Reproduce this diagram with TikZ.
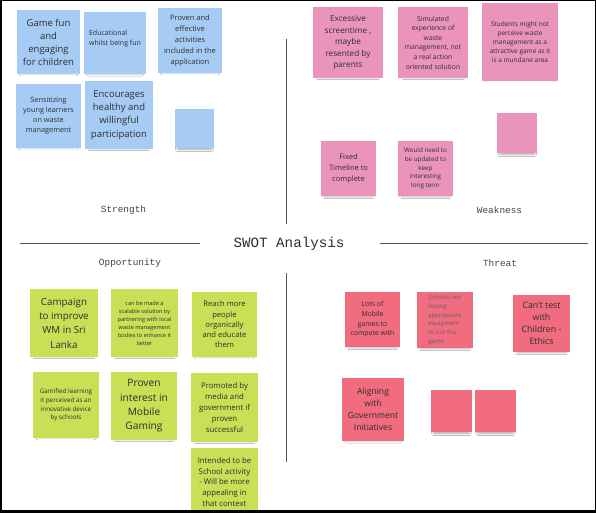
\documentclass[tikz,border=0pt]{standalone}
\usepackage{fontspec}
\setmainfont{Open Sans}
\setmonofont{Liberation Mono}
\usetikzlibrary{shadows.blur}
\definecolor{sblue}{HTML}{A6CCF5}
\definecolor{spink}{HTML}{EA94BB}
\definecolor{sgreen}{HTML}{C9DF56}
\definecolor{sred}{HTML}{F16C7F}
\definecolor{notetext}{HTML}{2E2E2E}
\definecolor{labtext}{HTML}{444444}
\definecolor{rulecol}{HTML}{555555}
\newcommand\stfs[2]{\fontsize{#1bp}{#2bp}\selectfont}
\begin{document}
\begin{tikzpicture}[x=1bp,y=-1bp,
  sticky/.style 2 args={rectangle, minimum width=#1bp, minimum height=#2bp,
    inner sep=0pt, outer sep=0pt, align=center, text=notetext,
    blur shadow={shadow xshift=0bp, shadow yshift=-5bp,
      shadow blur radius=2.5bp, shadow opacity=35, shadow scale=0.86}},
  lab/.style={font=\ttfamily\stfs{9.4}{11}, text=labtext, inner sep=1pt},
  titlestyle/.style={font=\ttfamily\stfs{14.2}{16}, text=notetext, inner sep=1pt},
  rulestyle/.style={draw=rulecol, line width=1bp},
  vrule/.style={draw=rulecol, line width=1.3bp}]
\useasboundingbox (0,0) rectangle (596,513);
\fill[white] (0,0) rectangle (596,513);
\begin{scope}
\clip (0,0) rectangle (596,510);
% Strength
\node[sticky={63}{64}, fill=sblue, font=\stfs{9.5}{13}] (s1) at (48.5,42) {Game fun\\and\\engaging\\for children};
\node[sticky={62}{62}, fill=sblue, font=\stfs{7}{10.5}, align=left] (s2) at (115,43) {Educational\\whilst being fun\\\mbox{}};
\node[sticky={64}{65}, fill=sblue, font=\stfs{7.5}{11}] (s3) at (190,40.5) {Proven and\\effective\\activities\\included in the\\application};
\node[sticky={65}{64}, fill=sblue, font=\stfs{7.3}{10}] (s4) at (48.5,116) {Sensitizing\\young learners\\on waste\\management};
\node[sticky={68}{68}, fill=sblue, font=\stfs{9.5}{13.3}] (s5) at (119,115) {Encourages\\healthy and\\willingful\\participation};
\node[sticky={39}{39}, fill=sblue] (s6) at (194.5,128.5) {};
% Weakness
\node[sticky={70}{71}, fill=spink, font=\stfs{8.2}{11.5}] (w1) at (348,42.5) {Excessive\\screentime ,\\maybe\\resented by\\parents};
\node[sticky={70}{71}, fill=spink, font=\stfs{6.8}{9.6}] (w2) at (433,42.5) {Simulated\\experience of\\waste\\management, not\\a real action\\oriented solution};
\node[sticky={76}{78}, fill=spink, font=\stfs{6.5}{9}] (w3) at (520,42) {Students might not\\perceive waste\\management as a\\attractive game as it\\is a mundane area};
\node[sticky={40}{40}, fill=spink] (w4) at (517,133) {};
\node[sticky={55}{55}, fill=spink, font=\stfs{7.5}{11}] (w5) at (348.5,168.5) {Fixed\\Timeline to\\complete};
\node[sticky={55}{55}, fill=spink, font=\stfs{6.3}{8.6}] (w6) at (425.5,168.5) {Would need to\\be updated to\\keep\\interesting\\long term};
% Opportunity
\node[sticky={68}{68}, fill=sgreen, font=\stfs{9.8}{14.3}] (g1) at (64,323) {Campaign\\to improve\\WM in Sri\\Lanka};
\node[sticky={67}{68}, fill=sgreen, font=\stfs{5.6}{8}] (g2) at (144.5,323) {can be made a\\scalable solution by\\partnering with local\\waste management\\bodies to enhance it\\better};
\node[sticky={65}{65}, fill=sgreen, font=\stfs{7.6}{10.3}] (g3) at (224.5,324.5) {Reach more\\people\\organically\\and educate\\them};
\node[sticky={66}{66}, fill=sgreen, font=\stfs{6.3}{8.7}] (g4) at (66,405) {Gamified learning\\it perceived as an\\innovative device\\by schools};
\node[sticky={66}{68}, fill=sgreen, font=\stfs{10.2}{14.3}] (g5) at (144,406) {Proven\\interest in\\Mobile\\Gaming};
\node[sticky={67}{69}, fill=sgreen, font=\stfs{7.8}{11}] (g6) at (224.5,407.5) {Promoted by\\media and\\government if\\proven\\successful};
\node[sticky={67}{68}, fill=sgreen, font=\stfs{7.8}{10.7}] (g7) at (224.5,482) {Intended to be\\School activity\\- Will be more\\appealing in\\that context};
% Threat
\node[sticky={55}{55}, fill=sred, font=\stfs{6.9}{9.7}] (t1) at (372.5,319.5) {Lots of\\Mobile\\games to\\compete with};
\node[sticky={56}{56}, fill=sred, font=\stfs{6}{8.8}, align=left, text=notetext!75] (t2) at (445,320) {Schools not\\having\\appropriate\\equipment\\to run the\\game};
\node[sticky={57}{57}, fill=sred, font=\stfs{8.8}{12}] (t3) at (541.5,323.5) {Can't test\\with\\Children -\\Ethics};
\node[sticky={62}{63}, fill=sred, font=\stfs{8.6}{12}] (t4) at (373,409.5) {Aligning\\with\\Government\\Initiatives};
\node[sticky={41}{42}, fill=sred] (t5) at (451.5,411) {};
\node[sticky={41}{42}, fill=sred] (t6) at (495.5,411) {};
\end{scope}
% labels and rules
\node[lab] (strength) at (123.5,210) {Strength};
\node[lab] (weakness) at (499.5,210) {Weakness};
\node[lab] (opportunity) at (130,263) {Opportunity};
\node[lab] (threat) at (500,263) {Threat};
\node[titlestyle] (swot) at (289,244) {SWOT Analysis};
\coordinate (hl1) at (20,243);
\coordinate (hl2) at (200,243);
\coordinate (hr1) at (380,243.5);
\coordinate (hr2) at (588,243.5);
\coordinate (vt1) at (286.5,39);
\coordinate (vt2) at (286.5,224);
\coordinate (vb1) at (286.5,273);
\coordinate (vb2) at (286.5,462);
\draw[rulestyle] (hl1) -- (hl2);
\draw[rulestyle] (hr1) -- (hr2);
\draw[vrule] (vt1) -- (vt2);
\draw[vrule] (vb1) -- (vb2);
% frame
\draw[black, line width=1.5bp] (0.75,0.75) rectangle (595.25,512.25);
\draw[black, line width=3bp] (0,511.5) -- (596,511.5);
\end{tikzpicture}
\end{document}
